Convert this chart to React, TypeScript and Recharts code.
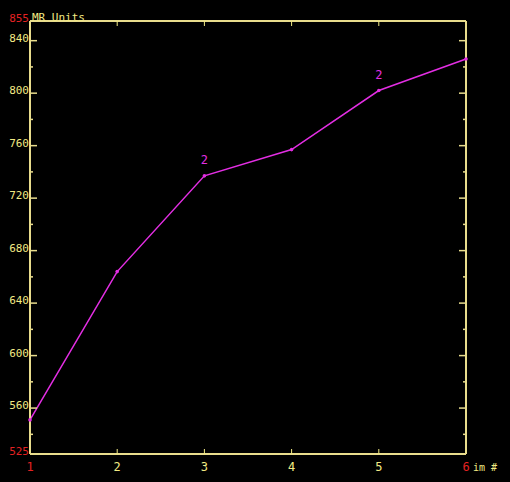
import React from "react";
import {
  LineChart,
  Line,
  XAxis,
  YAxis,
  LabelList,
} from "recharts";

// image number vs MR units
const imageNumbers = [1, 2, 3, 4, 5, 6];
const mrUnits = [551, 664, 737, 757, 802, 826];
const pointTags = ["", "", "2", "", "2", ""];

const yTicks = [525, 540, 560, 580, 600, 620, 640, 660, 680, 700, 720, 740, 760, 780, 800, 820, 840, 855];
const yMin = 525;
const yMax = 855;
const xTicks = [1, 2, 3, 4, 5, 6];

const AXIS = "#e8dc8c";
const TEXT = "#f2ea84";
const RED = "#e42222";
const MAGENTA = "#e32ee3";
const FONT = "'DejaVu Sans Mono', monospace";

const data = imageNumbers.map((n, i) => ({
  im: n,
  value: mrUnits[i],
  tag: pointTags[i],
}));

function LeftTick(props: any) {
  const { x, y, payload } = props;
  const v = payload.value;
  const isEnd = v === yMin || v === yMax;
  const isMajor = v % 40 === 0;
  return (
    <g>
      {!isEnd && (
        <line x1={x} x2={x + (isMajor ? 7 : 3)} y1={y} y2={y} stroke={AXIS} strokeWidth={1.5} />
      )}
      {(isEnd || isMajor) && (
        <text x={x - 1} y={y + 1} textAnchor="end" fill={isEnd ? RED : TEXT} fontSize={11} fontFamily={FONT}>
          {v}
        </text>
      )}
      {v === yMax && (
        <text x={x + 2} y={y} textAnchor="start" fill={TEXT} fontSize={11} fontFamily={FONT}>
          MR Units
        </text>
      )}
    </g>
  );
}

function RightTick(props: any) {
  const { x, y, payload } = props;
  const v = payload.value;
  if (v === yMin || v === yMax) return <g />;
  const isMajor = v % 40 === 0;
  return (
    <line x1={x} x2={x - (isMajor ? 7 : 3)} y1={y} y2={y} stroke={AXIS} strokeWidth={1.5} />
  );
}

function BottomTick(props: any) {
  const { x, y, payload } = props;
  const v = payload.value;
  const isEnd = v === 1 || v === 6;
  return (
    <g>
      {!isEnd && <line x1={x} x2={x} y1={y} y2={y - 5} stroke={TEXT} strokeWidth={1} />}
      <text x={x} y={y + 17} textAnchor="middle" fill={isEnd ? RED : TEXT} fontSize={12} fontFamily={FONT}>
        {v}
      </text>
      {v === 6 && (
        <text x={x + 7} y={y + 17} textAnchor="start" fill={TEXT} fontSize={10} fontFamily={FONT}>
          im #
        </text>
      )}
    </g>
  );
}

function TopTick(props: any) {
  const { x, y, payload } = props;
  const v = payload.value;
  if (v === 1 || v === 6) return <g />;
  return <line x1={x} x2={x} y1={y} y2={y + 5} stroke={TEXT} strokeWidth={1} />;
}

function TagLabel(props: any) {
  const { x, y, value } = props;
  if (!value) return null;
  return (
    <text x={x} y={y - 12} textAnchor="middle" fill={MAGENTA} fontSize={12} fontFamily={FONT}>
      {value}
    </text>
  );
}

export default function App() {
  return (
    <div style={{ position: "fixed", left: 0, top: 0, width: 510, height: 482, background: "#000" }}>
      <LineChart width={510} height={482} data={data} margin={{ top: 0, right: 0, bottom: 0, left: 0 }}>
        <XAxis
          dataKey="im"
          type="number"
          domain={[1, 6]}
          ticks={xTicks}
          height={28}
          axisLine={{ stroke: AXIS, strokeWidth: 2 }}
          tickLine={false}
          tickSize={0}
          tickMargin={0}
          tick={<BottomTick />}
          interval={0}
        />
        <XAxis
          xAxisId="top"
          dataKey="im"
          type="number"
          orientation="top"
          domain={[1, 6]}
          ticks={xTicks}
          height={21}
          axisLine={{ stroke: AXIS, strokeWidth: 2 }}
          tickLine={false}
          tickSize={0}
          tickMargin={0}
          tick={<TopTick />}
          interval={0}
        />
        <YAxis
          domain={[yMin, yMax]}
          ticks={yTicks}
          width={30}
          axisLine={{ stroke: AXIS, strokeWidth: 2 }}
          tickLine={false}
          tickSize={0}
          tickMargin={0}
          tick={<LeftTick />}
          interval={0}
          allowDataOverflow
        />
        <YAxis
          yAxisId="right"
          orientation="right"
          domain={[yMin, yMax]}
          ticks={yTicks}
          width={44}
          axisLine={{ stroke: AXIS, strokeWidth: 2 }}
          tickLine={false}
          tickSize={0}
          tickMargin={0}
          tick={<RightTick />}
          interval={0}
          allowDataOverflow
        />
        <Line
          dataKey="value"
          stroke={MAGENTA}
          strokeWidth={1.5}
          dot={{ r: 1.8, fill: MAGENTA, stroke: MAGENTA, strokeWidth: 0 }}
          activeDot={false}
          isAnimationActive={false}
        >
          <LabelList dataKey="tag" content={<TagLabel />} />
        </Line>
      </LineChart>
    </div>
  );
}
